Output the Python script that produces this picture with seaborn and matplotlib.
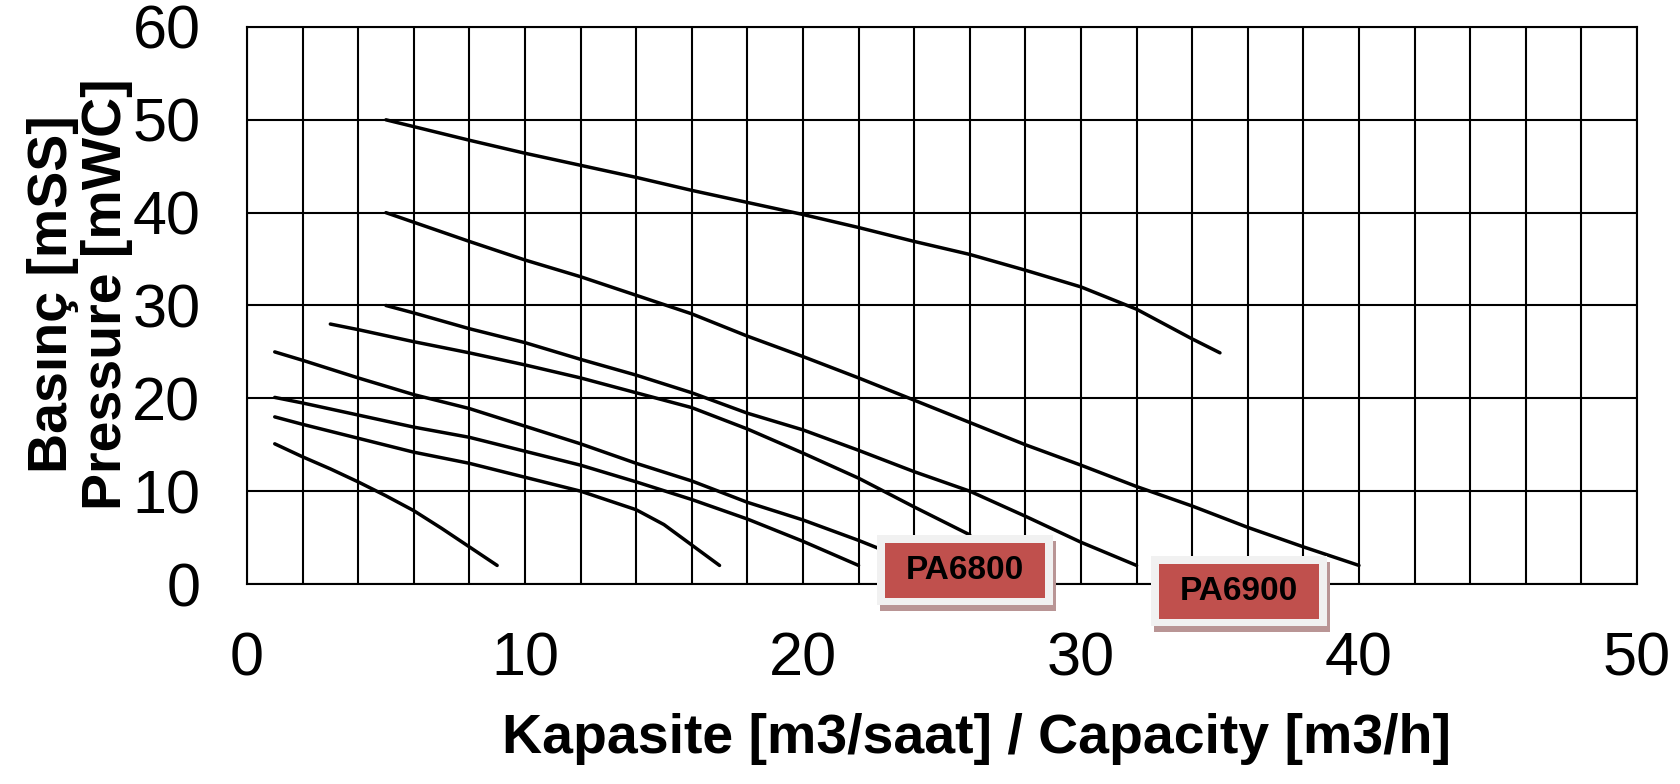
import matplotlib
matplotlib.use("Agg")
import matplotlib.pyplot as plt
import matplotlib.font_manager as fm
from matplotlib.patches import Rectangle
import pandas as pd
import seaborn as sns

# pump curves: capacity [m3/h] vs pressure [mWC]
x_a = [5, 8, 10, 12, 14, 16, 18, 20, 22, 24, 26, 28, 30, 32, 34, 35]
y_a = [50, 47.8, 46.4, 45.1, 43.8, 42.4, 41.1, 39.8, 38.4, 36.9, 35.5, 33.8, 32, 29.6, 26.4, 24.9]
x_b = [5, 8, 10, 12, 14, 16, 18, 20, 22, 24, 26, 28, 30, 32, 34, 36, 38, 40]
y_b = [40, 36.9, 34.9, 33.1, 31.1, 29.1, 26.7, 24.5, 22.2, 19.8, 17.4, 15.0, 12.8, 10.5, 8.4, 6.1, 4.0, 2.0]
x_c = [5, 6, 8, 10, 12, 14, 16, 18, 20, 22, 24, 26, 28, 30, 32]
y_c = [30, 29.2, 27.5, 26.0, 24.2, 22.5, 20.6, 18.4, 16.6, 14.4, 12.1, 10.0, 7.3, 4.5, 2.0]
x_d = [3, 4, 6, 8, 10, 12, 14, 16, 18, 20, 22, 24, 26]
y_d = [28, 27.4, 26.1, 24.9, 23.6, 22.2, 20.6, 19.0, 16.7, 14.1, 11.4, 8.3, 5.3]
x_e = [1, 2, 4, 6, 8, 10, 12, 14, 16, 18, 20, 22, 24]
y_e = [25, 24.1, 22.2, 20.4, 18.9, 17.0, 15.1, 13.0, 11.1, 8.8, 6.9, 4.7, 2.3]
x_f = [1, 2, 4, 6, 8, 10, 12, 14, 16, 18, 20, 22]
y_f = [20.1, 19.5, 18.2, 16.9, 15.8, 14.3, 12.8, 11.0, 9.1, 7.0, 4.6, 2.0]
x_g = [1, 2, 4, 6, 8, 10, 12, 14, 15, 16, 17]
y_g = [18, 17.2, 15.7, 14.2, 13.0, 11.5, 10.0, 8.0, 6.4, 4.2, 2.0]
x_h = [1, 2, 3, 4, 5, 6, 7, 8, 9]
y_h = [15.1, 13.7, 12.4, 11.0, 9.5, 7.9, 6.0, 4.0, 2.0]

curves = {"a": (x_a, y_a), "b": (x_b, y_b), "c": (x_c, y_c), "d": (x_d, y_d),
          "e": (x_e, y_e), "f": (x_f, y_f), "g": (x_g, y_g), "h": (x_h, y_h)}

# model labels (text, centre x, centre y)
label_text = ["PA6800", "PA6900"]
label_x = [25.83, 35.68]
label_y = [1.5, -0.8]

rows = []
for name, (xs, ys) in curves.items():
    for i, (xv, yv) in enumerate(zip(xs, ys)):
        rows.append({"curve": name, "order": i, "cap": xv, "pres": yv})
df = pd.DataFrame(rows)

sns.set_style("white")
names = {f.name for f in fm.fontManager.ttflist}
if "Liberation Sans Narrow" in names:
    main_font = "Liberation Sans Narrow"
    tick_size, label_size = 50, 46
else:
    main_font = "Liberation Sans"
    tick_size, label_size = 44, 40
plt.rcParams["font.family"] = [main_font, "Liberation Sans", "DejaVu Sans"]
plt.rcParams["text.color"] = "black"
plt.rcParams["axes.labelcolor"] = "black"

fig = plt.figure(figsize=(16.81, 7.84), dpi=100)
ax = fig.add_axes([0.1469, 0.2551, 0.8269, 0.7105])

sns.lineplot(data=df, x="cap", y="pres", units="curve", estimator=None, sort=False,
             color="black", linewidth=2.5, ax=ax, zorder=3)

ax.set_xlim(0, 50)
ax.set_ylim(0, 60)
ax.set_xticks(range(0, 51, 10))
ax.set_xticks(range(0, 51, 2), minor=True)
ax.set_yticks(range(0, 61, 10))
ax.grid(True, axis="x", which="both", color="black", linewidth=1.5)
ax.grid(True, axis="y", which="major", color="black", linewidth=1.5)
ax.set_axisbelow(True)
for s in ax.spines.values():
    s.set_visible(True)
    s.set_color("black")
    s.set_linewidth(1.5)

ax.tick_params(axis="both", which="major", direction="out", length=11.5, width=1.5,
               color="black", labelsize=tick_size, labelcolor="black")
ax.tick_params(axis="x", which="major", pad=23)
ax.tick_params(axis="y", which="major", pad=22)
ax.tick_params(axis="x", which="minor", length=0)

ax.set_xlabel("Kapasite [m3/saat] / Capacity [m3/h]", fontsize=label_size, fontweight="bold")
ax.set_ylabel("Basınç [mSS]\nPressure [mWC]", fontsize=label_size, fontweight="bold",
              linespacing=1.05)
ax.xaxis.set_label_coords(0.525, -0.232)
ax.yaxis.set_label_coords(-0.082, 0.52)

# label boxes with light border and soft shadow
ow, oh = 6.33, 7.54
iw, ih = 5.76, 5.93
for txt, cx, cy in zip(label_text, label_x, label_y):
    ax.add_patch(Rectangle((cx - ow / 2 + 0.11, cy - oh / 2 - 0.62), ow, oh,
                           facecolor="#B99595", edgecolor="none", zorder=5, clip_on=False))
    ax.add_patch(Rectangle((cx - ow / 2, cy - oh / 2), ow, oh,
                           facecolor="#F1F1F1", edgecolor="none", zorder=6, clip_on=False))
    ax.add_patch(Rectangle((cx - iw / 2, cy - ih / 2), iw, ih,
                           facecolor="#C0504D", edgecolor="none", zorder=7, clip_on=False))
    ax.text(cx, cy, txt, ha="center", va="center", fontsize=24, fontweight="bold",
            family=["Liberation Sans", "DejaVu Sans"], color="black", zorder=8, clip_on=False)

fig.savefig("out.png", dpi=100)
